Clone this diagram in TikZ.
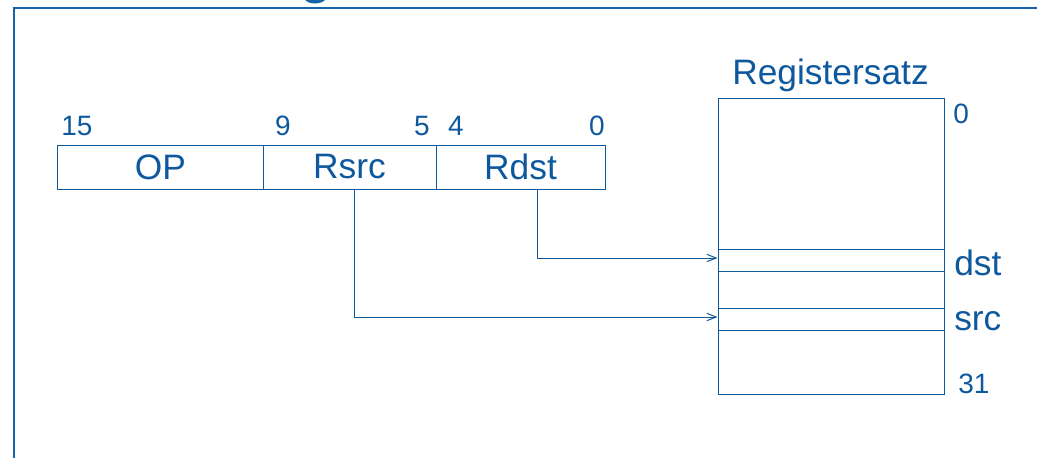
\documentclass[tikz,border=0pt]{standalone}
\usepackage{fontspec}
\setmainfont{Liberation Sans}
\usetikzlibrary{arrows.meta}
\definecolor{diag}{RGB}{14,88,158}
\definecolor{frame}{RGB}{20,100,172}
\begin{document}
\begin{tikzpicture}[x=0.75pt,y=-0.75pt,
  every node/.style={text=diag},
  big/.style={font=\fontsize{26.5pt}{29pt}\selectfont},
  small/.style={font=\fontsize{21pt}{24pt}\selectfont, inner sep=0pt},
  field/.style={draw=diag, line width=0.75pt, minimum height=33pt, inner sep=0pt, big},
  row/.style={draw=diag, line width=0.75pt, minimum width=169.5pt, minimum height=16.5pt, inner sep=0pt},
  conn/.style={draw=diag, line width=0.75pt, -{Straight Barb[length=7pt,width=5.5pt]}},
  lbl/.style={big, inner sep=0pt}]
\useasboundingbox (0,0) rectangle (1037,457);
% frame and cut-off title
\node[inner sep=0pt, anchor=base, font=\fontsize{45pt}{50pt}\selectfont, text=frame] (title) at (316,-9) {g};
\draw[frame, line width=1.5pt] (1040,8) -- (14,8) -- (14,460);
% instruction word
\node[field, minimum width=154.5pt] (op) at (160.5,167) {OP};
\node[field, minimum width=129.75pt] (rsrc) at (349.5,167) {Rsrc};
\node[field, minimum width=126.75pt] (rdst) at (520.5,167) {Rdst};
\node[small, anchor=base] (b15) at (77,135) {15};
\node[small, anchor=base] (b9) at (283,135) {9};
\node[small, anchor=base] (b5) at (422,135) {5};
\node[small, anchor=base] (b4) at (456,135) {4};
\node[small, anchor=base] (b0) at (597,135) {0};
% register file
\node[draw=diag, line width=0.75pt, minimum width=169.5pt, minimum height=222pt, inner sep=0pt] (regs) at (831,246) {};
\node[row] (dstrow) at (831,260) {};
\node[row] (srcrow) at (831,319) {};
\node[lbl, anchor=base] (rtitle) at (830.5,84) {Registersatz};
\node[small, anchor=base west] (r0) at (953,123) {0};
\node[lbl, anchor=base west] (dstl) at (954,275) {dst};
\node[lbl, anchor=base west] (srcl) at (954,330) {src};
\node[small, anchor=base west] (r31) at (958,393) {31};
% connectors
\draw[conn] ([xshift=3.4pt]rsrc.south) |- ([yshift=1.5pt]srcrow.west);
\draw[conn] ([xshift=12.4pt]rdst.south) |- ([yshift=1.5pt]dstrow.west);
\end{tikzpicture}
\end{document}
